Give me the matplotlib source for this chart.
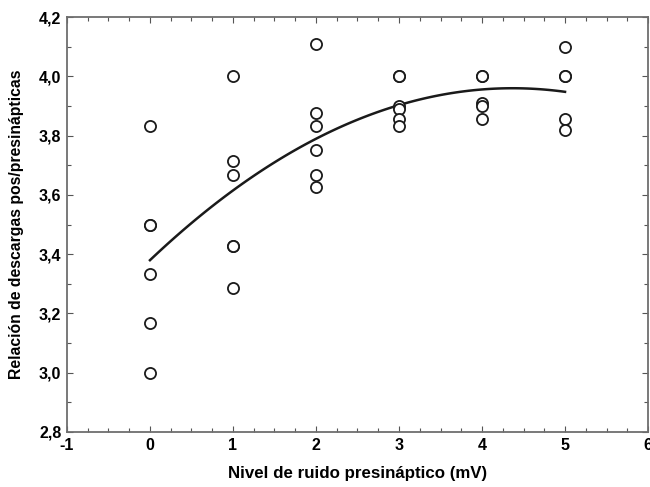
import numpy as np
import matplotlib.pyplot as plt
from matplotlib.ticker import MultipleLocator, FuncFormatter

plt.rcParams['font.family'] = ['Liberation Sans', 'DejaVu Sans']

# Datos
nivel_0 = [3.833, 3.5, 3.5, 3.333, 3.167, 3.0]
nivel_1 = [4.0, 3.714, 3.667, 3.429, 3.429, 3.286]
nivel_2 = [4.108, 3.875, 3.833, 3.75, 3.667, 3.625]
nivel_3 = [4.0, 4.0, 3.9, 3.889, 3.857, 3.833]
nivel_4 = [4.0, 4.0, 3.909, 3.9, 3.857]
nivel_5 = [4.1, 4.0, 4.0, 3.857, 3.818]

grupos = [nivel_0, nivel_1, nivel_2, nivel_3, nivel_4, nivel_5]
x = np.concatenate([[i] * len(g) for i, g in enumerate(grupos)])
y = np.concatenate(grupos)

# ajuste cuadratico
coef = np.polyfit(x, y, 2)
xf = np.linspace(0, 5, 100)
yf = np.polyval(coef, xf)

fig = plt.figure(figsize=(6.5, 4.87), dpi=100)
ax = fig.add_axes([0.103, 0.113, 0.894, 0.852])

ax.plot(x, y, 'o', mfc='white', mec='#1a1a1a', ms=8, mew=1.3, zorder=3)
ax.plot(xf, yf, color='#1a1a1a', lw=1.8, zorder=2)

ax.set_xlim(-1, 6)
ax.set_ylim(2.8, 4.2)
ax.xaxis.set_major_locator(MultipleLocator(1))
ax.xaxis.set_minor_locator(MultipleLocator(0.25))
ax.yaxis.set_major_locator(MultipleLocator(0.2))
ax.yaxis.set_minor_locator(MultipleLocator(0.1))
ax.yaxis.set_major_formatter(FuncFormatter(lambda v, p: f'{v:.1f}'.replace('.', ',')))
ax.xaxis.set_major_formatter(FuncFormatter(lambda v, p: f'{v:.0f}'))

ax.tick_params(which='both', direction='in', top=True, right=True, color='#555555')
ax.tick_params(which='major', length=4, width=0.8, labelsize=11.5, pad=4)
ax.tick_params(which='minor', length=3, width=0.8)
for lab in ax.get_xticklabels() + ax.get_yticklabels():
    lab.set_fontweight('bold')
for s in ax.spines.values():
    s.set_color('#6e6e6e')
    s.set_linewidth(1.3)

ax.set_xlabel('Nivel de ruido presináptico (mV)', fontsize=12.2, fontweight='bold', labelpad=10)
ax.set_ylabel('Relación de descargas pos/presinápticas', fontsize=11.3, fontweight='bold', labelpad=11)

fig.savefig('out.png', dpi=100)
